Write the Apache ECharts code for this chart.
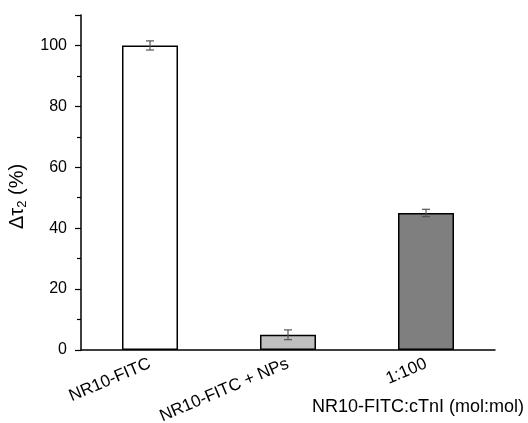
<!DOCTYPE html>
<html lang="en">
<head>
    <meta charset="UTF-8">
    <title>Delta tau2</title>
    <script src="https://cdn.jsdelivr.net/npm/echarts@6.0.0/dist/echarts.min.js"></script>
</head>
<body style="margin:0; background:#fff;">
    <div id="chart" style="width: 528px; height: 423px;"></div>
    <script type="text/javascript">
        // Data
        const categories = ['NR10-FITC', 'NR10-FITC + NPs', '1:100'];
        const values = [100, 5, 45];
        const errors = [1.5, 1.6, 1.2];
        const barColors = ['#ffffff', '#c0c0c0', '#7f7f7f'];

        const chart = echarts.init(document.getElementById('chart'));
        const font = 'Liberation Sans, Arial, sans-serif';

        const errData = categories.map((c, i) => [i, values[i] - errors[i], values[i] + errors[i]]);

        chart.setOption({
            animation: false,
            grid: { left: 81, right: 33, top: 15, bottom: 73, outerBoundsMode: 'none' },
            xAxis: {
                type: 'category',
                data: categories,
                name: 'NR10-FITC:cTnI (mol:mol)',
                nameLocation: 'end',
                nameGap: 29,
                nameTextStyle: {
                    fontFamily: font, fontSize: 18, color: '#000',
                    align: 'right', verticalAlign: 'top', padding: [48, 0, 0, 0]
                },
                axisLine: { lineStyle: { color: '#000', width: 1.5 } },
                axisTick: { show: false },
                axisLabel: {
                    rotate: 23, margin: 13, fontFamily: font, fontSize: 17, color: '#000'
                }
            },
            yAxis: {
                type: 'value',
                min: 0, max: 110, interval: 20,
                name: '{a|Δτ}{s|2}{a| (%)}',
                nameLocation: 'middle',
                nameRotate: 90,
                nameGap: 39,
                nameTextStyle: {
                    padding: [0, 28, 0, 0],
                    rich: {
                        a: { fontFamily: font, fontSize: 20, color: '#000' },
                        s: { fontFamily: font, fontSize: 13, color: '#000', verticalAlign: 'bottom', padding: [10, 0, 0, 0] }
                    }
                },
                splitLine: { show: false },
                axisLine: { show: true, lineStyle: { color: '#000', width: 1.5 } },
                axisTick: { show: true, inside: false, length: 6, lineStyle: { color: '#000', width: 1.2 } },
                minorTick: { show: true, splitNumber: 2, length: 4, lineStyle: { color: '#000', width: 1.2 } },
                axisLabel: {
                    fontFamily: font, fontSize: 16, color: '#000', margin: 14,
                    formatter: v => (v > 100 ? '' : v)
                }
            },
            series: [{
                type: 'bar',
                barWidth: 56,
                data: values.map((v, i) => ({
                    value: v,
                    itemStyle: { color: barColors[i], borderColor: '#000', borderWidth: 1.5 }
                }))
            }, {
                type: 'custom',
                data: errData,
                z: 10,
                renderItem: function (params, api) {
                    const x = api.value(0);
                    const lo = api.coord([x, api.value(1)]);
                    const hi = api.coord([x, api.value(2)]);
                    const cap = 4;
                    const style = { stroke: '#555', lineWidth: 1.2 };
                    return {
                        type: 'group',
                        children: [
                            { type: 'line', shape: { x1: lo[0], y1: lo[1], x2: hi[0], y2: hi[1] }, style },
                            { type: 'line', shape: { x1: lo[0] - cap, y1: lo[1], x2: lo[0] + cap, y2: lo[1] }, style },
                            { type: 'line', shape: { x1: hi[0] - cap, y1: hi[1], x2: hi[0] + cap, y2: hi[1] }, style }
                        ]
                    };
                }
            }]
        });
    </script>
</body>
</html>
